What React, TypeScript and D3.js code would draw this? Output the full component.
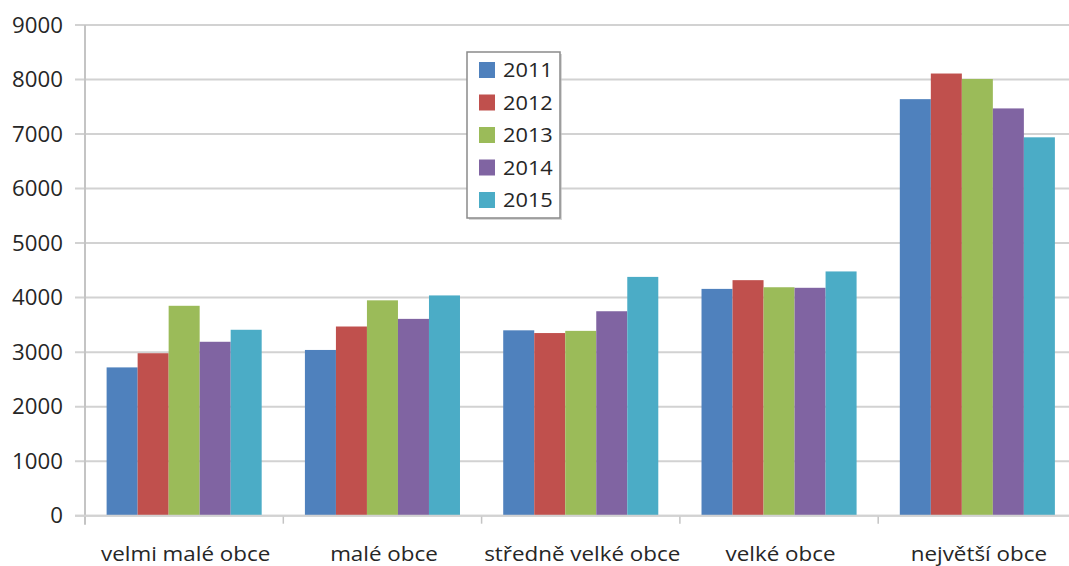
import React from "react";
import * as d3 from "d3";

// Categories of municipalities by size
const categories: string[] = [
  "velmi malé obce",
  "malé obce",
  "středně velké obce",
  "velké obce",
  "největší obce",
];

const years: string[] = ["2011", "2012", "2013", "2014", "2015"];

// Values per category, one array per year
const v2011: number[] = [2720, 3040, 3400, 4160, 7640];
const v2012: number[] = [2980, 3470, 3350, 4320, 8110];
const v2013: number[] = [3850, 3950, 3390, 4190, 8010];
const v2014: number[] = [3190, 3610, 3750, 4180, 7470];
const v2015: number[] = [3410, 4040, 4380, 4480, 6940];

const seriesValues: number[][] = [v2011, v2012, v2013, v2014, v2015];
const seriesColors: string[] = ["#4F81BD", "#C0504D", "#9BBB59", "#8064A2", "#4BACC6"];

const yTicks: number[] = [0, 1000, 2000, 3000, 4000, 5000, 6000, 7000, 8000, 9000];

const W = 1069;
const H = 566;
const FONT = "'Open Sans', 'Noto Sans', sans-serif";
const TEXT = "#262626";

// Text stretched slightly in x for a wider look
function Label(props: {
  x: number;
  y: number;
  anchor: "start" | "middle" | "end";
  size: number;
  sx: number;
  children: React.ReactNode;
}) {
  return (
    <text
      transform={`translate(${props.x},${props.y}) scale(${props.sx},1)`}
      textAnchor={props.anchor}
      fontSize={props.size}
      fill={TEXT}
    >
      {props.children}
    </text>
  );
}

export default function App() {
  const left = 85;
  const right = 1076.5;
  const top = 25;
  const bottom = 515.7;

  const y = d3.scaleLinear().domain([0, 9000]).range([bottom, top]);
  const x0 = d3
    .scaleBand<string>()
    .domain(categories)
    .range([left, right])
    .paddingInner(0.218)
    .paddingOuter(0.109);
  const x1 = d3
    .scaleBand<string>()
    .domain(years)
    .range([0, x0.bandwidth()])
    .padding(0);

  const step = x0.step();
  const boundaries = d3.range(categories.length + 1).map((i) => left + i * step);

  const legend = { x: 467, y: 52, w: 93, h: 166 };

  return (
    <svg
      width={W}
      height={H}
      style={{ position: "absolute", left: 0, top: 0, background: "#fff" }}
      fontFamily={FONT}
    >
      {/* horizontal gridlines with left tick marks */}
      {yTicks.map((t) => (
        <line
          key={"g" + t}
          x1={75}
          x2={W}
          y1={y(t)}
          y2={y(t)}
          stroke="#D2D2D2"
          strokeWidth={2}
        />
      ))}
      {/* value axis */}
      <line x1={left} x2={left} y1={top} y2={bottom + 9} stroke="#C4C4C4" strokeWidth={2} />
      {/* category tick marks */}
      {boundaries.slice(1).map((bx, i) => (
        <line key={"t" + i} x1={bx} x2={bx} y1={bottom} y2={bottom + 8} stroke="#C4C4C4" strokeWidth={1.5} />
      ))}
      {/* y tick labels */}
      {yTicks.map((t) => (
        <Label key={"l" + t} x={63} y={y(t) + 7.5} anchor="end" size={21} sx={1.06}>
          {t}
        </Label>
      ))}
      {/* bars */}
      {categories.map((c, ci) => (
        <g key={c} transform={`translate(${x0(c)},0)`}>
          {years.map((yr, si) => {
            const v = seriesValues[si][ci];
            return (
              <rect
                key={yr}
                x={x1(yr)}
                y={y(v)}
                width={x1.bandwidth()}
                height={bottom - y(v)}
                fill={seriesColors[si]}
              />
            );
          })}
        </g>
      ))}
      {/* zero baseline over bars */}
      <line x1={75} x2={W} y1={bottom} y2={bottom} stroke="#D2D2D2" strokeWidth={2} />
      {/* category labels */}
      {categories.map((c) => (
        <Label
          key={"c" + c}
          x={(x0(c) as number) + x0.bandwidth() / 2 + 1.5}
          y={560.5}
          anchor="middle"
          size={20}
          sx={1.12}
        >
          {c}
        </Label>
      ))}
      {/* legend */}
      <rect
        x={legend.x + 2}
        y={legend.y + 2}
        width={legend.w}
        height={legend.h}
        fill="#BDBDBD"
        opacity={0.6}
      />
      <rect
        x={legend.x}
        y={legend.y}
        width={legend.w}
        height={legend.h}
        fill="#fff"
        stroke="#8A8A8A"
        strokeWidth={1.5}
      />
      {years.map((yr, i) => {
        const cy = 70 + i * 32.5;
        return (
          <g key={"lg" + yr}>
            <rect x={479} y={cy - 8} width={16} height={16} fill={seriesColors[i]} />
            <Label x={503} y={cy + 7.2} anchor="start" size={20} sx={1.09}>
              {yr}
            </Label>
          </g>
        );
      })}
    </svg>
  );
}
